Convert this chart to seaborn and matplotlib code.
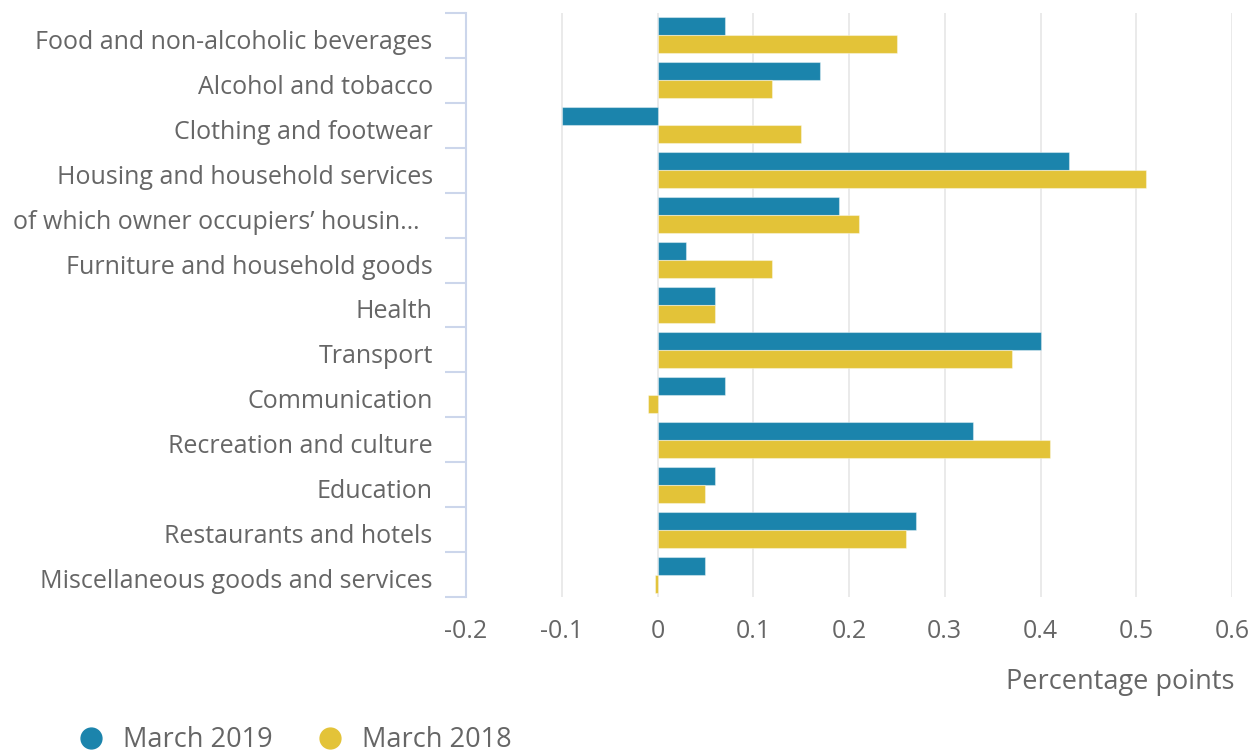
import matplotlib
matplotlib.use("Agg")
import matplotlib.pyplot as plt
import matplotlib.transforms as mtransforms
import seaborn as sns
import numpy as np
import pandas as pd
from matplotlib.lines import Line2D
from matplotlib.ticker import FixedLocator

# Data setup
categories = [
    "Food and non-alcoholic beverages",
    "Alcohol and tobacco",
    "Clothing and footwear",
    "Housing and household services",
    "of which owner occupiers\u2019 housin\u2026  ",
    "Furniture and household goods",
    "Health",
    "Transport",
    "Communication",
    "Recreation and culture",
    "Education",
    "Restaurants and hotels",
    "Miscellaneous goods and services",
]
march_2019 = [0.07, 0.17, -0.10, 0.43, 0.19, 0.03, 0.06, 0.40, 0.07, 0.33, 0.06, 0.27, 0.05]
march_2018 = [0.25, 0.12, 0.15, 0.51, 0.21, 0.12, 0.06, 0.37, -0.01, 0.41, 0.05, 0.26, -0.003]
series = ["March 2019", "March 2018"]
colors = ["#1b84ac", "#e3c338"]
x_ticks = [-0.2, -0.1, 0, 0.1, 0.2, 0.3, 0.4, 0.5, 0.6]
x_tick_labels = ["-0.2", "-0.1", "0", "0.1", "0.2", "0.3", "0.4", "0.5", "0.6"]

df = pd.DataFrame({
    "category": categories * 2,
    "value": march_2019 + march_2018,
    "period": [series[0]] * len(categories) + [series[1]] * len(categories),
})

sns.set_style("white")
plt.rcParams["font.family"] = ["Open Sans", "DejaVu Sans"]
text_color = "#666666"
fs = 18

fig = plt.figure(figsize=(12.6, 7.56), dpi=100)
ax = fig.add_axes([466 / 1260, 1 - 597 / 756, (1232 - 466) / 1260, (597 - 13) / 756])

sns.barplot(data=df, y="category", x="value", hue="period", orient="h",
            palette=colors, hue_order=series, order=categories, width=0.8,
            saturation=1, edgecolor=(1, 1, 1, 0.4), linewidth=0.8, ax=ax,
            legend=False)

ax.set_xlim(-0.2, 0.6)
ax.set_ylim(len(categories) - 0.5, -0.5)
ax.set_xticks(x_ticks)
ax.set_xticklabels(x_tick_labels)
ax.grid(axis="x", color="#e6e6e6", linewidth=1.2)
ax.set_axisbelow(True)

for s in ["top", "right", "bottom"]:
    ax.spines[s].set_visible(False)
ax.spines["left"].set_color("#ccd6eb")
ax.spines["left"].set_linewidth(1.5)

# category boundary ticks on the left axis
ax.yaxis.set_minor_locator(FixedLocator(np.arange(-0.5, len(categories), 1)))
ax.tick_params(axis="y", which="minor", length=15, width=1.5, color="#ccd6eb", left=True)
ax.tick_params(axis="y", which="major", length=0, pad=24, labelsize=fs, labelcolor=text_color)
ax.tick_params(axis="x", which="major", length=0, pad=16, labelsize=fs, labelcolor=text_color)
shift = mtransforms.ScaledTranslation(0, -4 / 100, fig.dpi_scale_trans)
for lbl in ax.get_yticklabels():
    lbl.set_va("center_baseline")
    lbl.set_transform(lbl.get_transform() + shift)

ax.set_ylabel("")
ax.set_xlabel("Percentage points", fontsize=19.5, color=text_color)
ax.xaxis.set_label_coords(1.003, -0.122)
ax.xaxis.label.set_horizontalalignment("right")

handles = [Line2D([0], [0], marker="o", linestyle="", markersize=15,
                  markerfacecolor=c, markeredgecolor=c) for c in colors]
fig.legend(handles, series, loc="lower left", bbox_to_anchor=(0.042, -0.03),
           ncol=2, frameon=False, fontsize=19.5, labelcolor=text_color,
           handletextpad=0.7, columnspacing=1.6, handlelength=1.0)

plt.savefig("out.png", dpi=100)
